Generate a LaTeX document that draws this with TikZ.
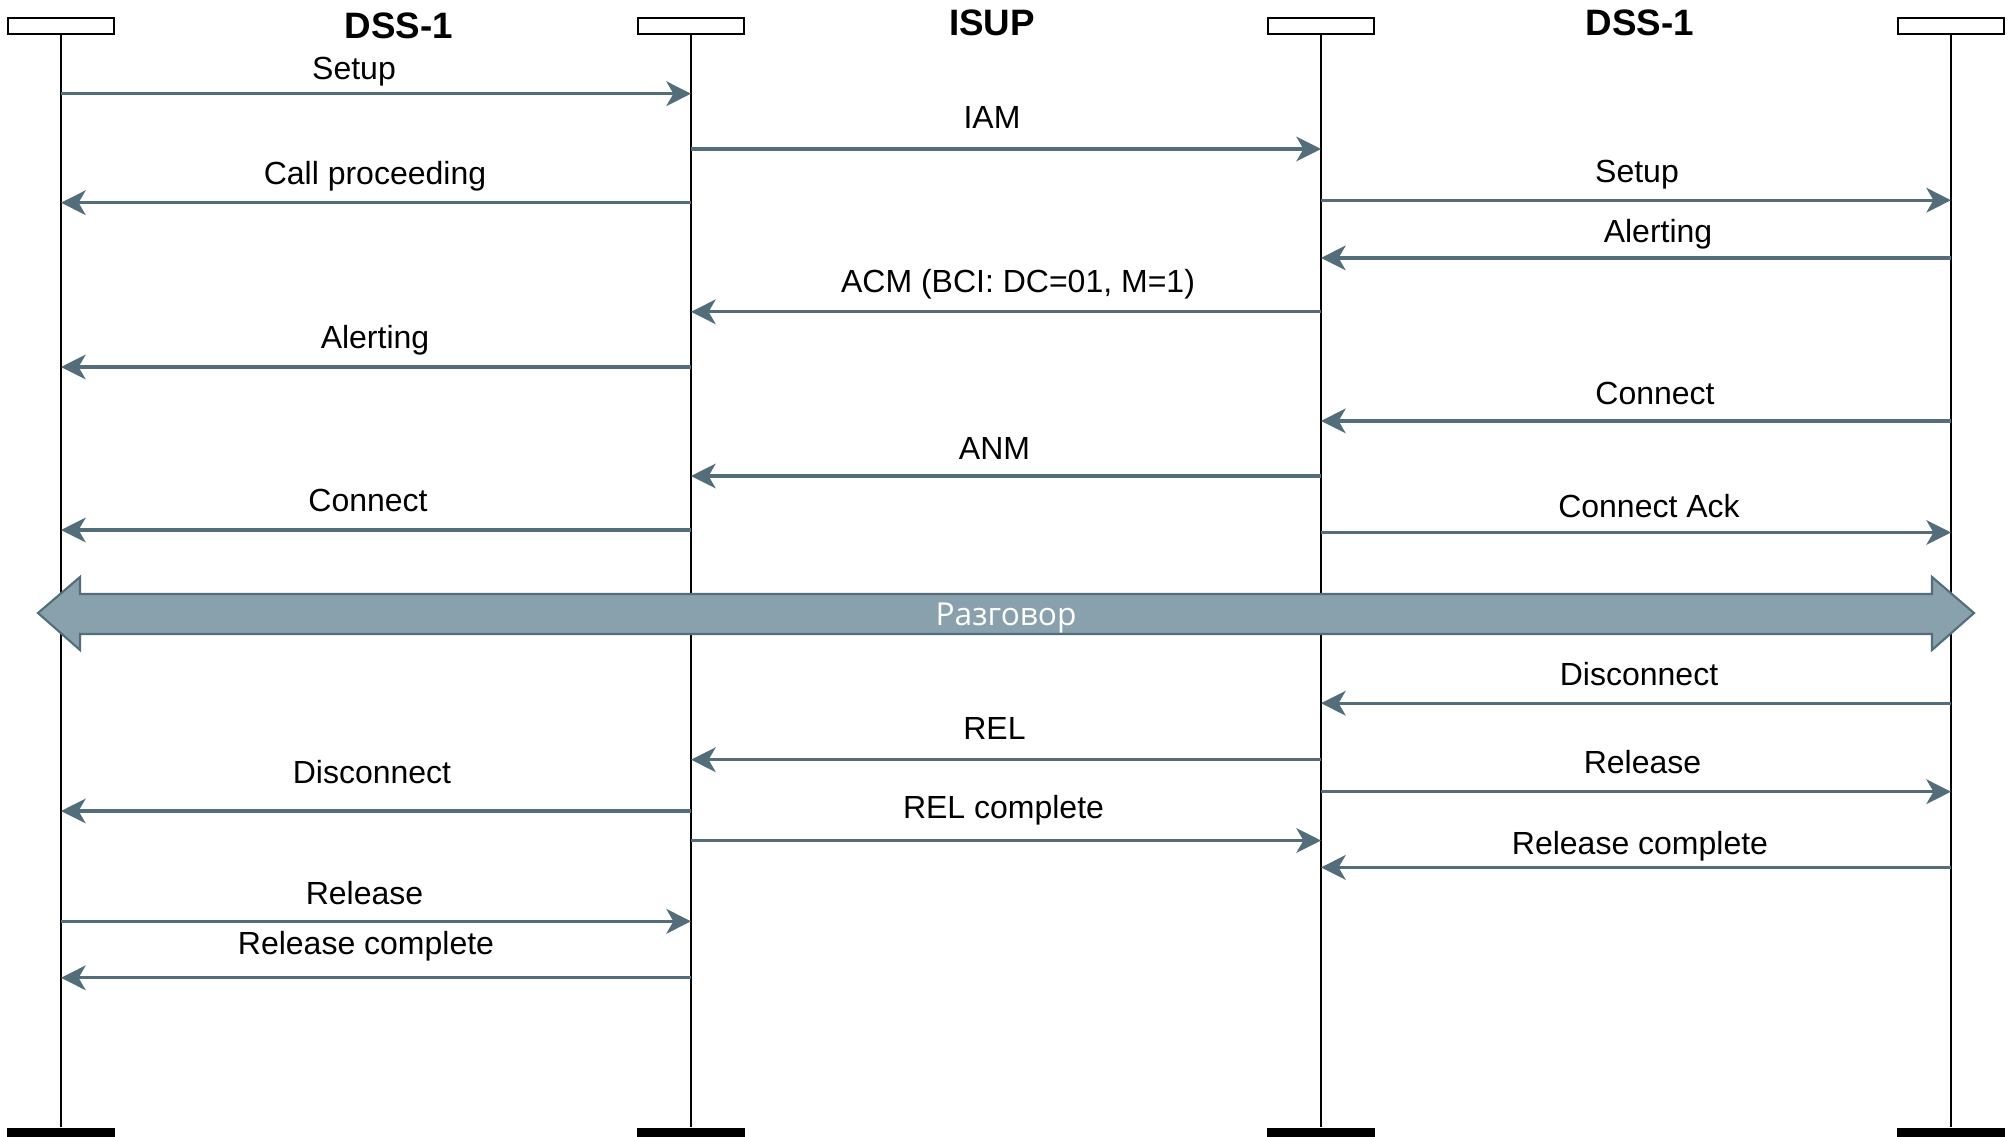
\documentclass[tikz,border=0pt]{standalone}
\usepackage{fontspec}
\setmainfont{Liberation Sans}
\newfontfamily\talkfont{Open Sans}
\usetikzlibrary{arrows.meta}
\definecolor{msgcol}{RGB}{83,109,122}
\definecolor{bandcol}{RGB}{136,161,173}
\begin{document}
\begin{tikzpicture}[x=0.01cm,y=-0.01cm]
    \tikzstyle{head}=[draw,line width=0.6pt,minimum width=1.06cm,minimum height=0.16cm,inner sep=0pt]
    \tikzstyle{foot}=[fill=black,minimum width=1.07cm,minimum height=0.09cm,inner sep=0pt]
    \tikzstyle{life}=[line width=0.4pt]
    \tikzstyle{title}=[anchor=base,font=\fontsize{10.45}{12}\selectfont\bfseries,inner sep=0pt]
    \tikzstyle{lbl}=[anchor=base,font=\fontsize{9.1}{11}\selectfont,inner sep=0pt]
    \tikzstyle{msg}=[draw=msgcol,line width=0.94pt,-{Stealth[length=7pt,width=7pt,inset=2pt]}]
    \useasboundingbox (0,0) rectangle (2012,1136);
    \node[head] (hA) at (61,26) {};
    \node[head] (hB) at (691,26) {};
    \node[head] (hC) at (1321,26) {};
    \node[head] (hD) at (1951,26) {};
    \node[foot] (fA) at (61,1132) {};
    \node[foot] (fB) at (691,1132) {};
    \node[foot] (fC) at (1321,1132) {};
    \node[foot] (fD) at (1951,1132) {};
    \draw[life] (hA.south) -- (fA.north);
    \draw[life] (hB.south) -- (fB.north);
    \draw[life] (hC.south) -- (fC.north);
    \draw[life] (hD.south) -- (fD.north);
    \node[title] (tA) at (399,38) {DSS-1};
    \node[title] (tB) at (992,35) {ISUP};
    \node[title] (tC) at (1640,35) {DSS-1};
    \node[lbl] (m1) at (354,79) {Setup};
      \draw[msg] (hA |- 0,93.7) -- (hB |- 0,93.7);
    \node[lbl] (m2) at (992,128) {IAM};
      \draw[msg] (hB |- 0,149) -- (hC |- 0,149);
    \node[lbl] (m3) at (375,184) {Call proceeding};
      \draw[msg] (hB |- 0,202.7) -- (hA |- 0,202.7);
    \node[lbl] (m4) at (1637,182) {Setup};
      \draw[msg] (hC |- 0,200.2) -- (hD |- 0,200.2);
    \node[lbl] (m5) at (1658,242) {Alerting};
      \draw[msg] (hD |- 0,257.9) -- (hC |- 0,257.9);
    \node[lbl] (m6) at (1018,292) {ACM (BCI: DC=01, M=1)};
      \draw[msg] (hC |- 0,311.8) -- (hB |- 0,311.8);
    \node[lbl] (m7) at (375,348.5) {Alerting};
      \draw[msg] (hB |- 0,367) -- (hA |- 0,367);
    \node[lbl] (m8) at (1655,404) {Connect};
      \draw[msg] (hD |- 0,420.9) -- (hC |- 0,420.9);
    \node[lbl] (m9) at (994.5,459) {ANM};
      \draw[msg] (hC |- 0,476) -- (hB |- 0,476);
    \node[lbl] (m10) at (368,511) {Connect};
      \draw[msg] (hB |- 0,530) -- (hA |- 0,530);
    \node[lbl] (m11) at (1649,517) {Connect Ack};
      \draw[msg] (hC |- 0,532.5) -- (hD |- 0,532.5);
    \fill[bandcol,draw=msgcol,line width=0.6pt,line join=miter] (38,613) -- (80,577) -- (80,594) -- (1932,594) -- (1932,577) -- (1974,613)
      -- (1932,650) -- (1932,634) -- (80,634) -- (80,650) -- cycle;
    \node[text=white,font=\talkfont\fontsize{9}{11}\selectfont] (talk) at (1006,618) {Разговор};
    \node[lbl] (m12) at (1639,685) {Disconnect};
      \draw[msg] (hD |- 0,703.2) -- (hC |- 0,703.2);
    \node[lbl] (m13) at (994.5,739) {REL};
      \draw[msg] (hC |- 0,759.7) -- (hB |- 0,759.7);
    \node[lbl] (m14) at (1642.5,773) {Release};
      \draw[msg] (hC |- 0,791.7) -- (hD |- 0,791.7);
    \node[lbl] (m15) at (372,783.5) {Disconnect};
      \draw[msg] (hB |- 0,811) -- (hA |- 0,811);
    \node[lbl] (m16) at (1003.5,818) {REL complete};
      \draw[msg] (hB |- 0,840.5) -- (hC |- 0,840.5);
    \node[lbl] (m17) at (1640,854) {Release complete};
      \draw[msg] (hD |- 0,867.4) -- (hC |- 0,867.4);
    \node[lbl] (m18) at (364.5,904) {Release};
      \draw[msg] (hA |- 0,921.3) -- (hB |- 0,921.3);
    \node[lbl] (m19) at (366,954) {Release complete};
      \draw[msg] (hB |- 0,977.8) -- (hA |- 0,977.8);
\end{tikzpicture}
\end{document}
